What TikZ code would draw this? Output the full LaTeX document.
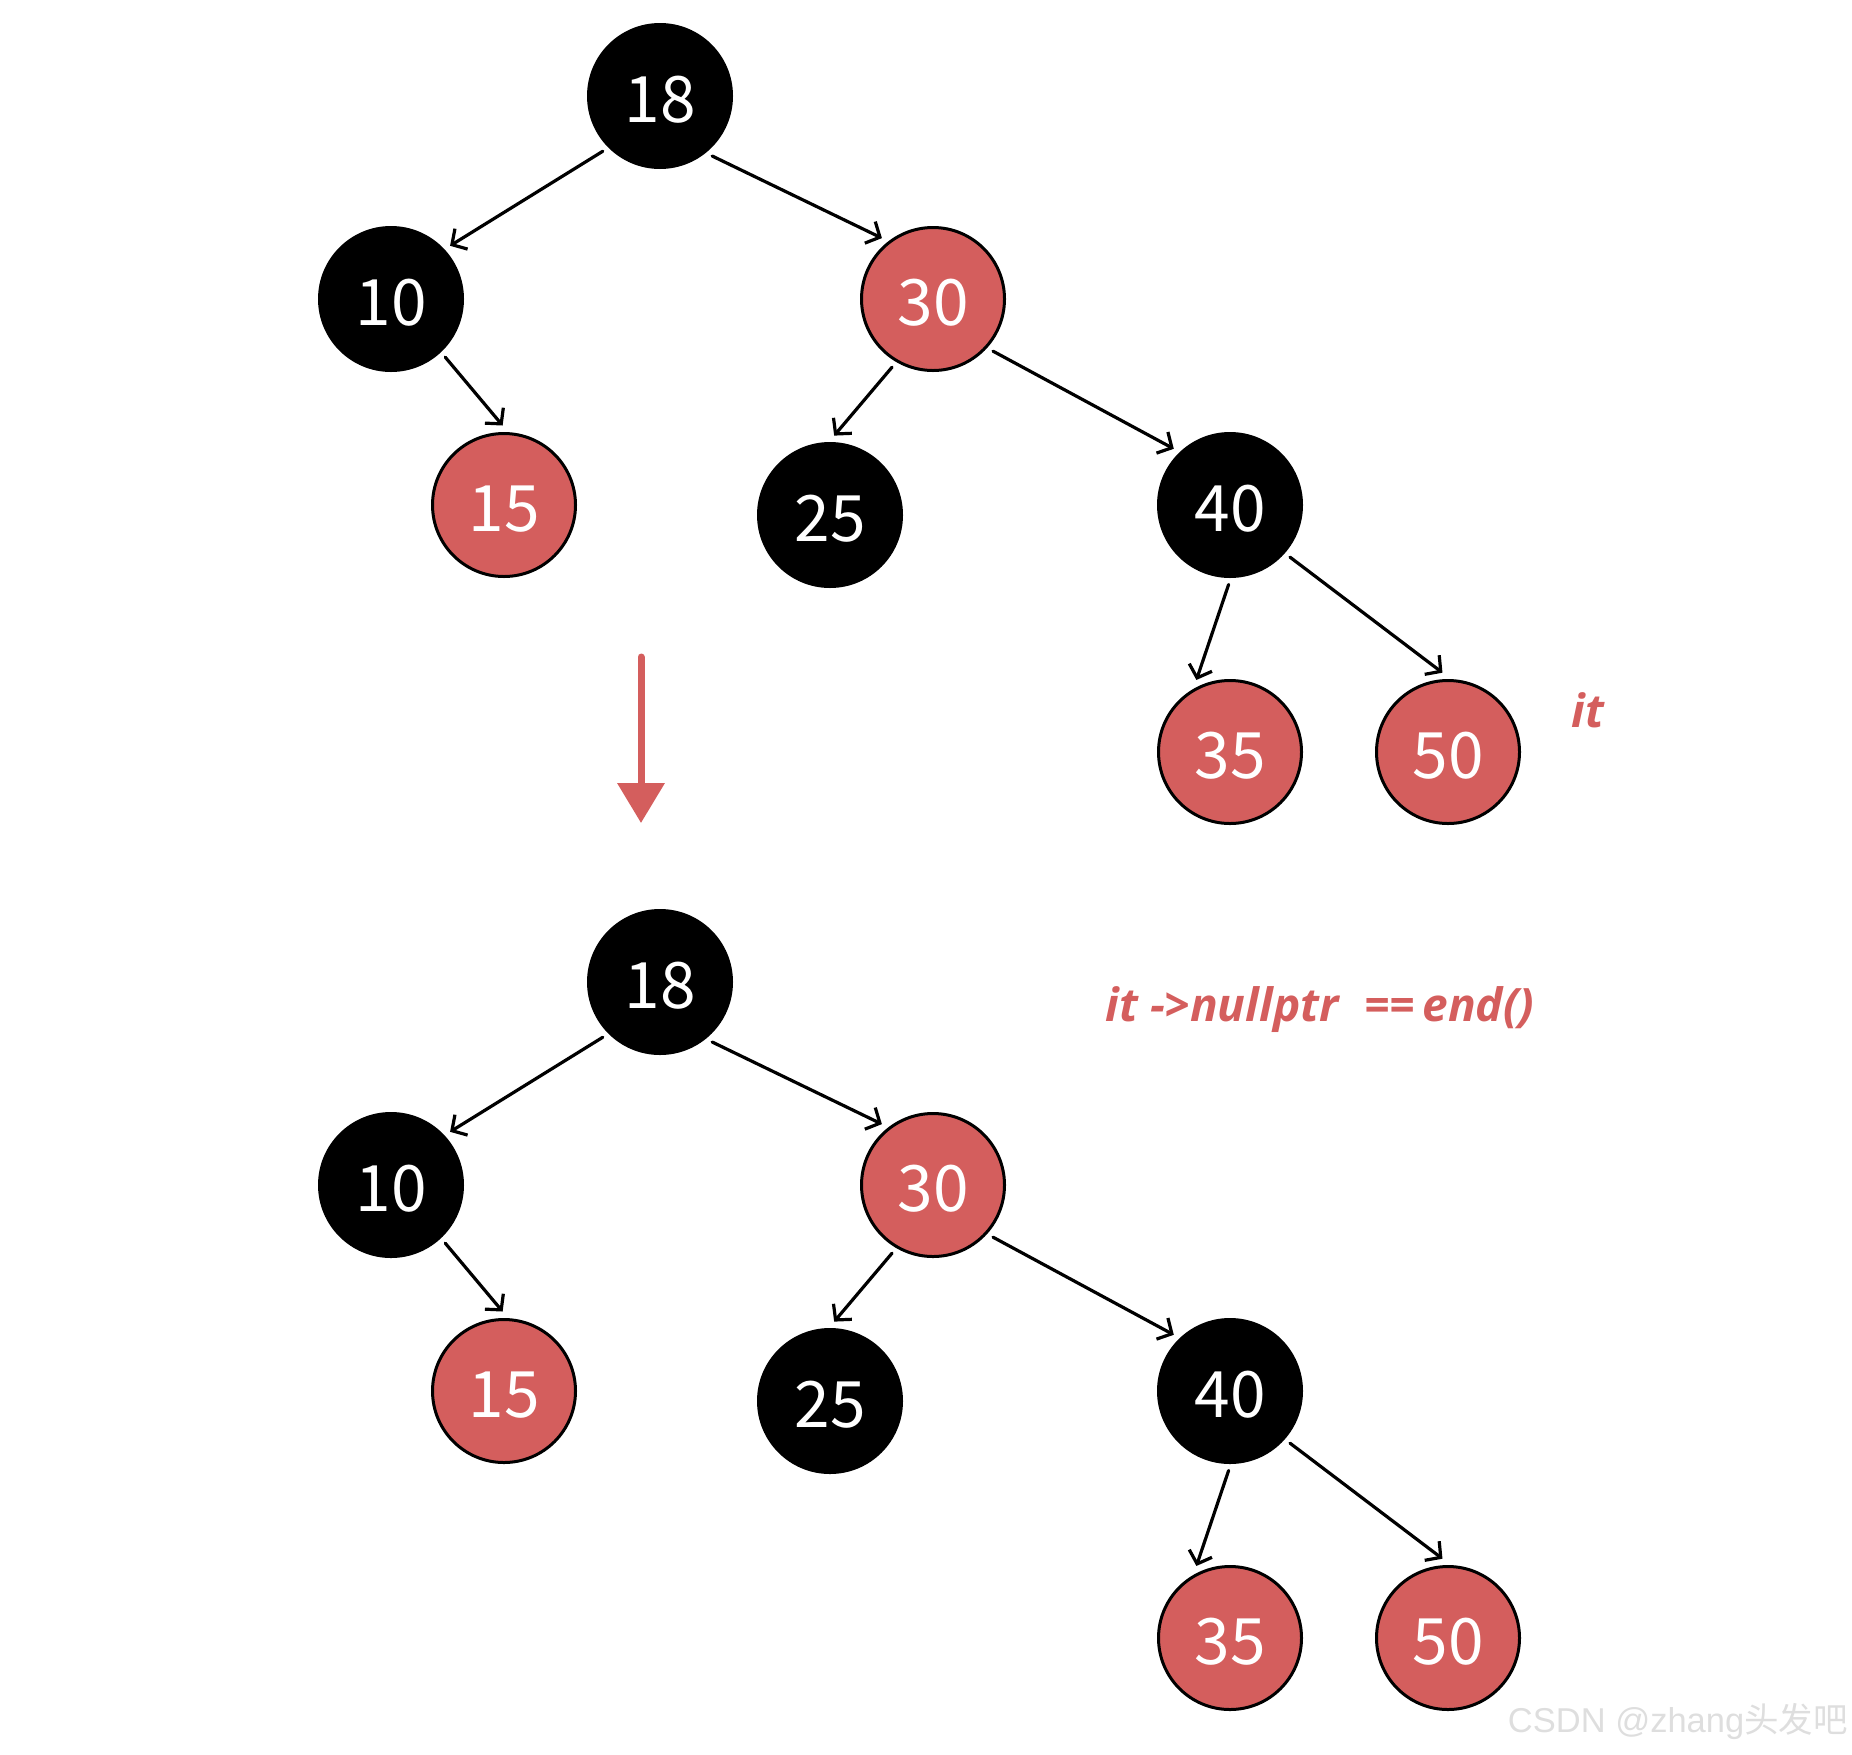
\documentclass[tikz,border=0pt]{standalone}
\usepackage{fontspec}
\usetikzlibrary{arrows.meta}
\newfontfamily\digitfont{Noto Sans CJK SC}
\newfontfamily\labfont{Open Sans}
\newfontfamily\wmfont{Liberation Sans}
\newfontfamily\wmcjk{Noto Sans CJK SC}
\definecolor{nodered}{RGB}{212,94,93}
\definecolor{wmgray}{RGB}{222,222,222}
\tikzset{
  rbnode/.style={circle, minimum size=143pt, inner sep=0pt, outer sep=8pt, line width=3pt,
     text=white, text height=53pt, text depth=0pt, font=\digitfont\fontsize{64}{70}\selectfont},
  blknode/.style={rbnode, fill=black, draw=black},
  rednode/.style={rbnode, fill=nodered, draw=black},
  treeedge/.style={-{Straight Barb[length=11pt,width=24pt]}, line width=3.2pt, line cap=round},
  bigarrow/.style={-{Triangle[length=40pt,width=46pt]}, line width=7pt, nodered, line cap=round},
  lab/.style={text=nodered, font=\labfont\bfseries\itshape\fontsize{46}{56}\selectfont, inner sep=0pt},
}
\begin{document}
\begin{tikzpicture}[x=1pt,y=-1pt]
\useasboundingbox (0,0) rectangle (1852,1754);
% two copies of the tree
\foreach \p/\dy in {a/0,b/886}{
  \node[blknode] (\p18) at (660,96+\dy) {18};
  \node[blknode] (\p10) at (391,299+\dy) {10};
  \node[rednode] (\p30) at (933,299+\dy) {30};
  \node[rednode] (\p15) at (504,505+\dy) {15};
  \node[blknode] (\p25) at (830,515+\dy) {25};
  \node[blknode] (\p40) at (1230,505+\dy) {40};
  \node[rednode] (\p35) at (1230,752+\dy) {35};
  \node[rednode] (\p50) at (1448,752+\dy) {50};
  \draw[treeedge] (\p18.-136) -- (\p10.42);
  \draw[treeedge] (\p18.-49) -- (\p30.130);
  \draw[treeedge] (\p10.-47) -- (\p15.91);
  \draw[treeedge] (\p30.-121) -- (\p25.87);
  \draw[treeedge] (\p30.-41) -- (\p40.135);
  \draw[treeedge] (\p40.-91) -- (\p35.115);
  \draw[treeedge] (\p40.-41) -- (\p50.94);
}
\coordinate (arrS) at (641,657);
\coordinate (arrE) at (641,823);
\draw[bigarrow] (arrS) -- (arrE);
\node[lab] (itlab) at (1588,710) {it};
\node[lab] (eqlab) at (1320,1010) {it ->nullptr\hspace{0.3em} ==\hspace{-0.1em} end()};
\node[text=wmgray, inner sep=0pt, anchor=east] (wm) at (1848,1721)
  {\wmfont\fontsize{34.5}{40}\selectfont CSDN @zhang\wmcjk 头发吧};
\end{tikzpicture}
\end{document}
